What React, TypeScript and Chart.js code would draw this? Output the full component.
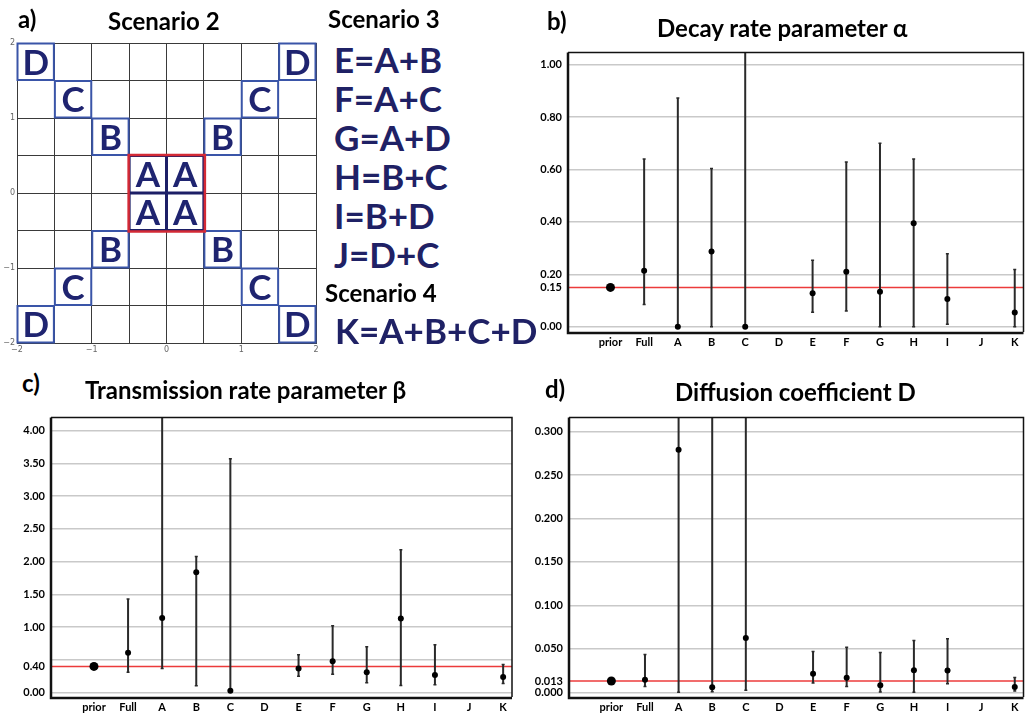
import React, { useEffect, useRef } from 'react';
import { Chart, registerables } from 'chart.js';
Chart.register(...registerables);

const FONT = 'Lato, "Open Sans", sans-serif';

// ---------- Panel a data ----------
const cellX = [-1.75, 1.75, -1.25, 1.25, -0.75, 0.75, -0.25, 0.25, -0.25, 0.25, -0.75, 0.75, -1.25, 1.25, -1.75, 1.75];
const cellY = [1.75, 1.75, 1.25, 1.25, 0.75, 0.75, 0.25, 0.25, -0.25, -0.25, -0.75, -0.75, -1.25, -1.25, -1.75, -1.75];
const cellLabel = ['D', 'D', 'C', 'C', 'B', 'B', 'A', 'A', 'A', 'A', 'B', 'B', 'C', 'C', 'D', 'D'];
const gridLabelTicks = [-2, -1, 0, 1, 2];
const gridLineTicks = [-2, -1.5, -1, -0.5, 0, 0.5, 1, 1.5, 2];
const scenario3 = ['E=A+B', 'F=A+C', 'G=A+D', 'H=B+C', 'I=B+D', 'J=D+C'];
const scenario4 = ['K=A+B+C+D'];

// ---------- Panels b-d data ----------
const categories = ['prior', 'Full', 'A', 'B', 'C', 'D', 'E', 'F', 'G', 'H', 'I', 'J', 'K'];

const alphaMid = [0.15, 0.214, 0.0, 0.287, 0.0, null, 0.128, 0.21, 0.134, 0.395, 0.106, null, 0.054];
const alphaLow = [null, 0.085, 0.0, 0.0, 0.0, null, 0.055, 0.06, 0.0, 0.0, 0.01, null, 0.0];
const alphaHigh = [null, 0.64, 0.873, 0.604, 1.2, null, 0.254, 0.629, 0.70, 0.64, 0.279, null, 0.218];
const alphaGrid = [0, 0.2, 0.4, 0.6, 0.8, 1.0];
const alphaLabels = [0, 0.15, 0.2, 0.4, 0.6, 0.8, 1.0];

const betaMid = [0.40, 0.61, 1.14, 1.84, 0.03, null, 0.37, 0.48, 0.31, 1.13, 0.27, null, 0.24];
const betaLow = [null, 0.31, 0.37, 0.106, 0.03, null, 0.25, 0.28, 0.15, 0.11, 0.12, null, 0.14];
const betaHigh = [null, 1.43, 4.6, 2.08, 3.57, null, 0.58, 1.02, 0.70, 2.18, 0.73, null, 0.43];
const betaGrid = [0, 0.5, 1, 1.5, 2, 2.5, 3, 3.5, 4];
const betaLabels = [0, 0.4, 1, 1.5, 2, 2.5, 3, 3.5, 4];

const diffMid = [0.013, 0.0145, 0.279, 0.0057, 0.0624, null, 0.0213, 0.0168, 0.008, 0.0255, 0.0251, null, 0.006];
const diffLow = [null, 0.0068, 0.0, 0.0005, 0.0023, null, 0.0106, 0.0068, 0.0003, 0.0, 0.0099, null, 0.0015];
const diffHigh = [null, 0.0434, 0.4, 0.4, 0.4, null, 0.0468, 0.0517, 0.0457, 0.0597, 0.0616, null, 0.017];
const diffGrid = [0, 0.05, 0.1, 0.15, 0.2, 0.25, 0.3];
const diffLabels = [0, 0.013, 0.05, 0.1, 0.15, 0.2, 0.25, 0.3];

const near = (list: number[], v: number) => list.some((t) => Math.abs(t - v) < 1e-9);

function GridPanel() {
  const ref = useRef<HTMLCanvasElement>(null);
  useEffect(() => {
    const cellSize = 0.5;
    const cellPlugin = {
      id: 'cells',
      afterDatasetsDraw(chart: any) {
        const { ctx } = chart;
        const xs = chart.scales.x;
        const ys = chart.scales.y;
        ctx.save();
        let minX = Infinity, maxX = -Infinity, minY = Infinity, maxY = -Infinity;
        cellX.forEach((cx, i) => {
          const x0 = xs.getPixelForValue(cx - cellSize / 2);
          const x1 = xs.getPixelForValue(cx + cellSize / 2);
          const y0 = ys.getPixelForValue(cellY[i] + cellSize / 2);
          const y1 = ys.getPixelForValue(cellY[i] - cellSize / 2);
          const isA = cellLabel[i] === 'A';
          if (isA) {
            minX = Math.min(minX, x0); maxX = Math.max(maxX, x1);
            minY = Math.min(minY, y0); maxY = Math.max(maxY, y1);
          }
          ctx.strokeStyle = isA ? '#1c1f66' : '#3a55a8';
          ctx.lineWidth = 2;
          ctx.strokeRect(x0 + 0.5, y0 + 0.5, x1 - x0 - 1, y1 - y0 - 1);
          ctx.fillStyle = '#1f2470';
          ctx.font = `bold 35px ${FONT}`;
          ctx.textAlign = 'center';
          ctx.textBaseline = 'middle';
          ctx.fillText(cellLabel[i], (x0 + x1) / 2, (y0 + y1) / 2 + 1.5);
        });
        ctx.strokeStyle = '#d42a36';
        ctx.lineWidth = 2.5;
        ctx.strokeRect(minX - 0.5, minY - 0.5, maxX - minX + 1.5, maxY - minY + 1.5);
        ctx.restore();
      },
    };
    const axis = (pos: string) => ({
      type: 'linear',
      position: pos,
      min: -2,
      max: 2,
      afterBuildTicks: (s: any) => { s.ticks = gridLineTicks.map((v) => ({ value: v })); },
      ticks: {
        autoSkip: false,
        maxRotation: 0,
        padding: 2,
        color: '#666',
        font: { family: 'DejaVu Sans', size: 8 },
        callback: (v: number) => (near(gridLabelTicks, v) ? (v < 0 ? '\u2212' + Math.abs(v) : String(v)) : ''),
      },
      grid: { color: '#3a3a3a', lineWidth: 1, drawTicks: false },
      border: { display: true, color: '#3a3a3a', width: 1 },
    });
    const chart = new Chart(ref.current as HTMLCanvasElement, {
      type: 'scatter',
      data: { datasets: [{ data: cellX.map((v, i) => ({ x: v, y: cellY[i] })), pointRadius: 0 }] },
      options: {
        responsive: false,
        animation: false,
        devicePixelRatio: 1,
        layout: { padding: { top: 13, right: 14, left: 0, bottom: 0 } },
        plugins: { legend: { display: false }, tooltip: { enabled: false } },
        scales: {
          x: { ...axis('bottom'), afterFit: (s: any) => { s.height = 17; } },
          y: { ...axis('left'), afterFit: (s: any) => { s.width = 17; } },
        } as any,
      },
      plugins: [cellPlugin],
    } as any);
    return () => chart.destroy();
  }, []);
  return <canvas ref={ref} width={330} height={330} style={{ position: 'absolute', left: 0, top: 30, width: 330, height: 330 }} />;
}

type EP = {
  left: number; top: number; width: number; height: number;
  yAxisWidth: number; padTop: number; padRight: number; xAxisHeight: number;
  mids: (number | null)[]; lows: (number | null)[]; highs: (number | null)[];
  grid: number[]; labels: number[]; decimals: number; yMin: number; yMax: number;
};

function ErrorPanel(p: EP) {
  const ref = useRef<HTMLCanvasElement>(null);
  useEffect(() => {
    const barPlugin = {
      id: 'errbars',
      beforeDatasetsDraw(chart: any) {
        const { ctx, chartArea: a } = chart;
        const xs = chart.scales.x;
        const ys = chart.scales.y;
        ctx.save();
        ctx.beginPath();
        ctx.rect(a.left, a.top, a.right - a.left, a.bottom - a.top);
        ctx.clip();
        const ref0 = p.mids[0] as number;
        const ry = ys.getPixelForValue(ref0);
        ctx.strokeStyle = '#ec3b3b';
        ctx.lineWidth = 1.5;
        ctx.beginPath();
        ctx.moveTo(a.left, ry);
        ctx.lineTo(a.right, ry);
        ctx.stroke();
        p.lows.forEach((lo, i) => {
          const hi = p.highs[i];
          if (lo == null || hi == null) return;
          const x = xs.getPixelForValue(i);
          const y0 = ys.getPixelForValue(lo);
          const y1 = ys.getPixelForValue(hi);
          ctx.strokeStyle = '#2a2a2a';
          ctx.lineWidth = 2;
          ctx.beginPath();
          ctx.moveTo(x, y0);
          ctx.lineTo(x, y1);
          ctx.stroke();
          ctx.lineWidth = 1.5;
          ctx.beginPath();
          ctx.moveTo(x - 1.5, y0); ctx.lineTo(x + 1.5, y0);
          ctx.moveTo(x - 1.5, y1); ctx.lineTo(x + 1.5, y1);
          ctx.stroke();
        });
        ctx.restore();
      },
      afterDraw(chart: any) {
        const { ctx, chartArea: a } = chart;
        ctx.save();
        ctx.strokeStyle = '#111';
        ctx.lineWidth = 1.5;
        ctx.beginPath();
        ctx.moveTo(a.left, a.top); ctx.lineTo(a.right, a.top); ctx.lineTo(a.right, a.bottom);
        ctx.stroke();
        ctx.lineWidth = 2.5;
        ctx.beginPath();
        ctx.moveTo(a.left, a.top); ctx.lineTo(a.left, a.bottom + 1); ctx.lineTo(a.right, a.bottom + 1);
        ctx.stroke();
        ctx.restore();
      },
    };
    const pts = p.mids
      .map((v, i) => (v == null ? null : { x: i, y: v }))
      .filter((d) => d !== null);
    const chart = new Chart(ref.current as HTMLCanvasElement, {
      type: 'scatter',
      data: {
        datasets: [{
          data: pts,
          pointRadius: (c: any) => (c.raw && c.raw.x === 0 ? 4.5 : 3),
          pointBackgroundColor: '#000',
          pointBorderColor: '#000',
          pointBorderWidth: 0,
        }],
      },
      options: {
        responsive: false,
        animation: false,
        devicePixelRatio: 1,
        layout: { padding: { top: p.padTop, right: p.padRight, left: 0, bottom: 0 } },
        plugins: { legend: { display: false }, tooltip: { enabled: false } },
        scales: {
          x: {
            type: 'linear',
            min: -1.26,
            max: 12.26,
            afterBuildTicks: (s: any) => { s.ticks = categories.map((_, i) => ({ value: i })); },
            afterFit: (s: any) => { s.height = p.xAxisHeight; },
            ticks: {
              autoSkip: false, maxRotation: 0, padding: 4, color: '#000',
              font: { family: FONT, size: 11, weight: 'bold' },
              callback: (v: number) => categories[Math.round(v)] ?? '',
            },
            grid: { display: false, drawTicks: false },
            border: { display: false },
          },
          y: {
            type: 'linear',
            min: p.yMin,
            max: p.yMax,
            afterBuildTicks: (s: any) => {
              const all = Array.from(new Set([...p.grid, ...p.labels])).sort((a, b) => a - b);
              s.ticks = all.map((v) => ({ value: v }));
            },
            afterFit: (s: any) => { s.width = p.yAxisWidth; },
            ticks: {
              autoSkip: false, padding: 6, color: '#000',
              font: { family: FONT, size: 11, weight: 'bold' },
              callback: (v: number) => (near(p.labels, v) ? v.toFixed(p.decimals) : ''),
            },
            grid: {
              drawTicks: false,
              lineWidth: 1.5,
              color: (c: any) => (c.tick && near(p.grid, c.tick.value) ? '#c9c9c9' : 'rgba(0,0,0,0)'),
            },
            border: { display: false },
          },
        } as any,
      },
      plugins: [barPlugin],
    } as any);
    return () => chart.destroy();
  }, []);
  return <canvas ref={ref} width={p.width} height={p.height} style={{ position: 'absolute', left: p.left, top: p.top, width: p.width, height: p.height }} />;
}

const T = (props: { left: number; top: number; size: number; color?: string; children: any }) => (
  <div style={{
    position: 'absolute', left: props.left, top: props.top, fontFamily: FONT, fontWeight: 700,
    fontSize: props.size, lineHeight: 1, color: props.color ?? '#000', whiteSpace: 'nowrap',
  }}>{props.children}</div>
);

export default function App() {
  return (
    <div style={{ position: 'absolute', left: 0, top: 0, width: 1027, height: 715, overflow: 'hidden', background: '#fff' }}>
      <GridPanel />
      <ErrorPanel left={520} top={40} width={508} height={316} yAxisWidth={48} padTop={8} padRight={0} xAxisHeight={24}
        mids={alphaMid} lows={alphaLow} highs={alphaHigh} grid={alphaGrid} labels={alphaLabels} decimals={2} yMin={-0.02} yMax={1.046} />
      <ErrorPanel left={0} top={405} width={520} height={310} yAxisWidth={51} padTop={10} padRight={8} xAxisHeight={18}
        mids={betaMid} lows={betaLow} highs={betaHigh} grid={betaGrid} labels={betaLabels} decimals={2} yMin={-0.067} yMax={4.2} />
      <ErrorPanel left={520} top={405} width={508} height={310} yAxisWidth={49} padTop={10} padRight={0} xAxisHeight={18}
        mids={diffMid} lows={diffLow} highs={diffHigh} grid={diffGrid} labels={diffLabels} decimals={3} yMin={-0.0054} yMax={0.316} />

      <T left={18} top={7} size={24}>a)</T>
      <T left={108} top={9} size={24}>Scenario 2</T>
      <T left={328} top={7} size={24}>Scenario 3</T>
      <div style={{ position: 'absolute', left: 334, top: 39.6, fontFamily: FONT, fontWeight: 700, fontSize: 35, lineHeight: '39.1px', color: '#1f2165', whiteSpace: 'nowrap' }}>
        {scenario3.map((s) => <div key={s}>{s}</div>)}
      </div>
      <T left={325} top={281} size={24}>Scenario 4</T>
      <T left={335} top={313} size={35} color="#1f2165">{scenario4[0]}</T>

      <T left={547} top={9} size={24}>b)</T>
      <T left={657} top={16} size={24}>Decay rate parameter α</T>
      <T left={22} top={371} size={24}>c)</T>
      <T left={85} top={378} size={24}>Transmission rate parameter β</T>
      <T left={545} top={377} size={24}>d)</T>
      <T left={675} top={380} size={24}>Diffusion coefficient D</T>
    </div>
  );
}
